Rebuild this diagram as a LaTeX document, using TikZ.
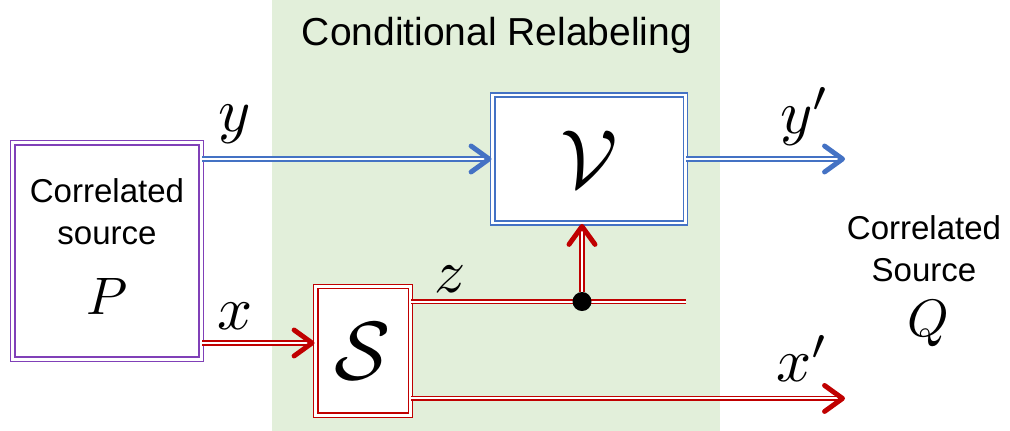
\documentclass[tikz,border=0pt]{standalone}
\usepackage{fontspec}
\setmainfont{Liberation Sans}
\usetikzlibrary{arrows.meta}
\definecolor{relabelgreen}{RGB}{226,239,218}
\definecolor{srcpurple}{RGB}{128,64,184}
\definecolor{chanblue}{RGB}{68,114,196}
\definecolor{chanred}{RGB}{192,0,0}

\tikzset{
  dblbox/.style={draw=#1, double=white, line width=1.1pt, double distance=1.2pt,
    fill=white, inner sep=0pt},
  dblline/.style={draw=#1, double=white, line width=1pt, double distance=1.1pt},
  barb/.style={-{Straight Barb[length=0.36cm, width=0.52cm, line width=2.8pt, round]}},
  lbl/.style={anchor=base, inner sep=0pt},
  mathlbl/.style={lbl, scale=3.5},
}

\begin{document}
\begin{tikzpicture}[x=0.02cm, y=-0.02cm]
  \useasboundingbox (0,0) rectangle (1010,431);
  \fill[relabelgreen] (272,0) rectangle (720,431);

  \node (title) at (497,35) {\fontsize{22.2}{26}\selectfont Conditional Relabeling};

  % source P
  \node[dblbox=srcpurple, minimum width=3.78cm, minimum height=4.34cm] (srcP) at (107,251) {};
  \node[lbl] (srcPa) at (107,203) {\fontsize{18.8}{22}\selectfont Correlated};
  \node[lbl] (srcPb) at (107,245) {\fontsize{18.8}{22}\selectfont source};
  \node[lbl, scale=3] (srcPc) at (107,315) {$P$};

  % relabeling blocks
  \node[dblbox=chanblue, minimum width=3.86cm, minimum height=2.56cm] (V) at (589,159) {};
  \node[scale=4.7] (Vsym) at (V) {$\mathcal{V}$};
  \node[dblbox=chanred, minimum width=1.9cm, minimum height=2.58cm] (S) at (363,351) {};
  \node[scale=4.7] (Ssym) at (S) {$\mathcal{S}$};

  % target Q
  \node[lbl] (srcQa) at (924,240) {\fontsize{18.8}{22}\selectfont Correlated};
  \node[lbl] (srcQb) at (924,282) {\fontsize{18.8}{22}\selectfont Source};
  \node[lbl, scale=3] (srcQc) at (928,337) {$Q$};

  \coordinate (yout) at (845,159);
  \coordinate (xin) at ([yshift=0.16cm]S.west);
  \coordinate (zout) at ([yshift=-0.32cm]S.north east);
  \coordinate (zend) at (zout -| 686,0);
  \coordinate (xpout) at ([yshift=0.36cm]S.south east);

  \draw[dblline=chanblue, barb] (srcP.east |- V.west) -- (V.west);
  \draw[dblline=chanblue, barb] (V.east) -- (yout);
  \draw[dblline=chanred, barb] (srcP.east |- xin) -- (xin);
  \draw[dblline=chanred] (zout) -- (zend);
  \node[circle, fill=black, inner sep=0pt, minimum size=0.38cm] (zdot) at (zout -| 582,0) {};
  \draw[dblline=chanred, barb] (zdot) -- (zdot |- V.south);
  \draw[dblline=chanred, barb] (xpout) -- (xpout -| yout);

  % signal labels
  \node[mathlbl] (ylbl) at (235,132) {$y$};
  \node[mathlbl] (xlbl) at (235,330) {$x$};
  \node[mathlbl] (zlbl) at (450,293) {$z$};
  \node[mathlbl] (yplbl) at (805,134) {$y'$};
  \node[mathlbl] (xplbl) at (803,382) {$x'$};
\end{tikzpicture}
\end{document}
